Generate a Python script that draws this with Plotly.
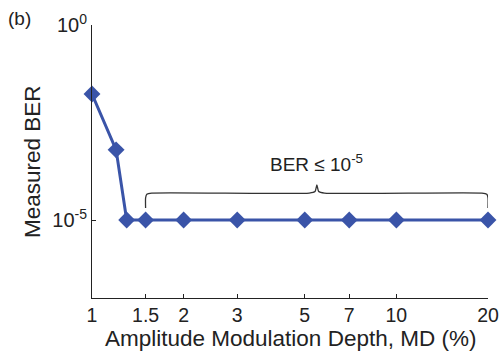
import numpy as np
import plotly.graph_objects as go

md = [1, 1.2, 1.3, 1.5, 2, 3, 5, 7, 10, 20]
ber = [0.017, 6.3e-4, 1e-5, 1e-5, 1e-5, 1e-5, 1e-5, 1e-5, 1e-5, 1e-5]
x_ticks = [1, 1.5, 2, 3, 5, 7, 10, 20]
x_tick_text = ["1", "1.5", "2", "3", "5", "7", "10", "20"]
y_ticks = [1, 1e-5]
y_tick_text = ["10<sup>0</sup>", "10<sup>-5</sup>"]

blue = "#3a54a8"
ink = "#222222"
font = "Liberation Sans, Arial, sans-serif"

L, R, T, B = 92, 14, 25, 54
W, H = 502, 352
pw, ph = W - L - R, H - T - B

def px_x(p):
    return (p - L) / pw

def px_y(p):
    return (H - B - p) / ph

fig = go.Figure()
fig.add_trace(go.Scatter(
    x=md, y=ber, mode="lines+markers",
    line=dict(color=blue, width=3),
    marker=dict(symbol="diamond", size=13, color=blue),
    showlegend=False, cliponaxis=False,
))

# curly brace over x = 1.5 .. 20
x1, x2 = np.log10(1.5), np.log10(20)
xc = np.log10(5.48)
yb, yh, yc = -4.69, -4.31, -4.10
bx = [x1, x1, x1 + 0.004, x1 + 0.02, xc - 0.025, xc - 0.006, xc, xc + 0.006, xc + 0.025, x2 - 0.02, x2 - 0.004, x2, x2]
by = [yb, yh - 0.12, yh - 0.03, yh, yh, yh + 0.04, yc, yh + 0.04, yh, yh, yh - 0.03, yh - 0.12, yb]
fig.add_trace(go.Scatter(
    x=[10 ** v for v in bx], y=[10 ** v for v in by], mode="lines",
    line=dict(color="#333333", width=1.3, shape="spline", smoothing=0.5),
    showlegend=False, hoverinfo="skip",
))

fig.add_annotation(x=xc, y=-3.54, xref="x", yref="y", text="BER ≤ 10<sup>-5</sup>",
                   showarrow=False, font=dict(family=font, size=19, color=ink))
fig.add_annotation(x=px_x(6), y=px_y(18), xref="paper", yref="paper", text="(b)",
                   xanchor="left", yanchor="middle", showarrow=False,
                   font=dict(family=font, size=19, color=ink))
fig.add_annotation(x=0.5, y=px_y(338), xref="paper", yref="paper",
                   text="Amplitude Modulation Depth, MD (%)", showarrow=False,
                   xanchor="center", yanchor="middle",
                   font=dict(family=font, size=22.5, color=ink))
fig.add_annotation(x=px_x(32.5), y=0.5, xref="paper", yref="paper",
                   text="Measured BER", textangle=-90, showarrow=False,
                   xanchor="center", yanchor="middle",
                   font=dict(family=font, size=22.5, color=ink))

fig.update_xaxes(
    type="log", range=[0, np.log10(20)], tickvals=x_ticks, ticktext=x_tick_text,
    ticks="inside", ticklen=4, tickcolor=ink, showline=True, linecolor=ink, linewidth=1,
    showgrid=False, zeroline=False, tickfont=dict(family=font, size=19.5, color=ink),
    automargin=False,
)
fig.update_yaxes(
    type="log", range=[-7, 0], tickvals=y_ticks, ticktext=y_tick_text,
    ticks="inside", ticklen=4, tickcolor=ink, showline=True, linecolor=ink, linewidth=1,
    showgrid=False, zeroline=False, tickfont=dict(family=font, size=20, color=ink),
    automargin=False,
)
fig.update_layout(
    width=W, height=H, margin=dict(l=L, r=R, t=T, b=B),
    plot_bgcolor="white", paper_bgcolor="white",
)
fig.write_html("out.html", config={"displayModeBar": False},
               post_script="document.body.style.margin='0';")
